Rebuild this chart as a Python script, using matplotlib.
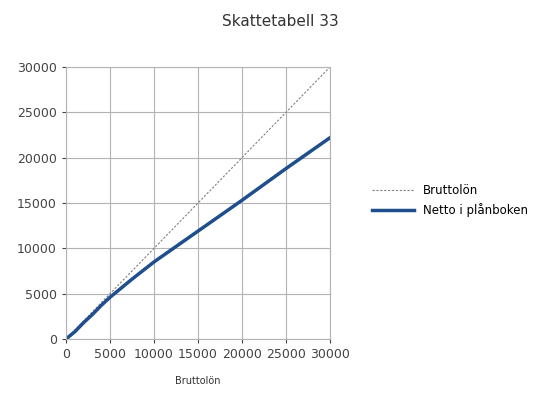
import matplotlib
matplotlib.use("Agg")
import matplotlib.pyplot as plt

brutto = [0, 30000]
brutto_line = [0, 30000]
x = [0, 1000, 2000, 3000, 4000, 5000, 7500, 10000, 15000, 20000, 25000, 30000]
netto = [0, 800, 1800, 2700, 3700, 4600, 6600, 8500, 11900, 15300, 18800, 22200]

fig = plt.figure(figsize=(5.4, 4.01), dpi=100)
ax = fig.add_axes([66/540, 1-339/401, (330-66)/540, (339-67)/401])
ax.plot(brutto, brutto_line, color="#808080", lw=0.8, ls=(0, (2, 1.5)), label="Bruttolön")
ax.plot(x, netto, color="#1f4e8c", lw=2.5, label="Netto i plånboken")
ax.set_xlim(0, 30000)
ax.set_ylim(0, 30000)
ticks = [0, 5000, 10000, 15000, 20000, 25000, 30000]
ax.set_xticks(ticks)
ax.set_yticks(ticks)
ax.tick_params(labelsize=9, colors="#444444", length=3)
ax.grid(color="#b3b3b3", lw=0.8)
for s in ax.spines.values():
    s.set_color("#b3b3b3")
ax.set_xlabel("Bruttolön", fontsize=7, color="#333333", labelpad=11)
fig.suptitle("Skattetabell 33", x=0.52, y=0.965, fontsize=11, color="#333333")
fig.legend(loc="center left", bbox_to_anchor=(0.67, 0.5), frameon=False, fontsize=8.5, handlelength=3.5)
fig.savefig("out.png")
